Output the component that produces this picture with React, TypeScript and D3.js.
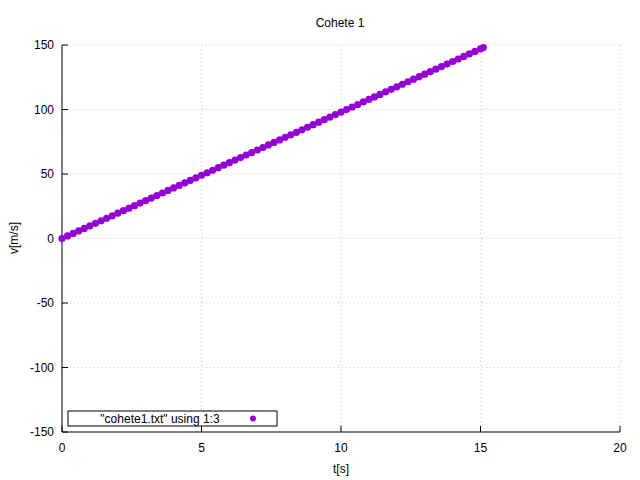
import React, { useEffect, useRef } from 'react';
import * as d3 from 'd3';

const title = 'Cohete 1';
const legendLabel = '"cohete1.txt" using 1:3';
const xTicks = [0, 5, 10, 15, 20];
const yTicks = [-150, -100, -50, 0, 50, 100, 150];

const tValues = [
  0, 0.2, 0.4, 0.6, 0.8, 1, 1.2, 1.4, 1.6, 1.8, 2, 2.2, 2.4, 2.6, 2.8, 3, 3.2, 3.4, 3.6, 3.8,
  4, 4.2, 4.4, 4.6, 4.8, 5, 5.2, 5.4, 5.6, 5.8, 6, 6.2, 6.4, 6.6, 6.8, 7, 7.2, 7.4, 7.6, 7.8,
  8, 8.2, 8.4, 8.6, 8.8, 9, 9.2, 9.4, 9.6, 9.8, 10, 10.2, 10.4, 10.6, 10.8, 11, 11.2, 11.4, 11.6, 11.8,
  12, 12.2, 12.4, 12.6, 12.8, 13, 13.2, 13.4, 13.6, 13.8, 14, 14.2, 14.4, 14.6, 14.8, 15, 15.1,
];
const vValues = [
  0, 1.96, 3.92, 5.88, 7.84, 9.8, 11.76, 13.72, 15.68, 17.64, 19.6, 21.56, 23.52, 25.48, 27.44, 29.4, 31.36, 33.32, 35.28, 37.24,
  39.2, 41.16, 43.12, 45.08, 47.04, 49, 50.96, 52.92, 54.88, 56.84, 58.8, 60.76, 62.72, 64.68, 66.64, 68.6, 70.56, 72.52, 74.48, 76.44,
  78.4, 80.36, 82.32, 84.28, 86.24, 88.2, 90.16, 92.12, 94.08, 96.04, 98, 99.96, 101.92, 103.88, 105.84, 107.8, 109.76, 111.72, 113.68, 115.64,
  117.6, 119.56, 121.52, 123.48, 125.44, 127.4, 129.36, 131.32, 133.28, 135.24, 137.2, 139.16, 141.12, 143.08, 145.04, 147, 148,
];

const App: React.FC = () => {
  const svgRef = useRef<SVGSVGElement>(null);

  useEffect(() => {
    if (!svgRef.current) return;
    const svg = d3.select(svgRef.current);
    svg.selectAll('*').remove();
    const left = 62, right = 620, top = 45, bottom = 432;
    const color = '#9400d3';
    const font = 'Liberation Sans, Arial, sans-serif';

    const x = d3.scaleLinear().domain([0, 20]).range([left, right]);
    const y = d3.scaleLinear().domain([-150, 150]).range([bottom, top]);

    svg.append('rect').attr('width', 640).attr('height', 480).attr('fill', 'white');

    // grid
    const grid = svg.append('g').attr('stroke', '#c8c8c8').attr('stroke-width', 1).attr('stroke-dasharray', '1,3');
    xTicks.slice(1).forEach(t => grid.append('line').attr('x1', x(t)).attr('x2', x(t)).attr('y1', top).attr('y2', bottom));
    yTicks.slice(1).forEach(t => grid.append('line').attr('x1', left).attr('x2', right).attr('y1', y(t)).attr('y2', y(t)));

    // axes
    const ax = svg.append('g').attr('stroke', 'black').attr('stroke-width', 1);
    ax.append('line').attr('x1', left).attr('x2', left).attr('y1', top).attr('y2', bottom);
    ax.append('line').attr('x1', left).attr('x2', right).attr('y1', bottom).attr('y2', bottom);
    xTicks.forEach(t => ax.append('line').attr('x1', x(t)).attr('x2', x(t)).attr('y1', bottom).attr('y2', bottom - 6));
    yTicks.forEach(t => ax.append('line').attr('x1', left).attr('x2', left + 6).attr('y1', y(t)).attr('y2', y(t)));

    // legend box
    svg.append('rect').attr('x', 68).attr('y', 411).attr('width', 209).attr('height', 15)
      .attr('fill', 'white').attr('stroke', 'black');

    const txt = svg.append('g').attr('font-family', font).attr('font-size', 12).attr('fill', 'black');
    xTicks.forEach(t => txt.append('text').attr('x', x(t)).attr('y', bottom + 20).attr('text-anchor', 'middle').text(t));
    yTicks.forEach(t => txt.append('text').attr('x', left - 8).attr('y', y(t) + 4).attr('text-anchor', 'end').text(t));
    txt.append('text').attr('x', 340).attr('y', 27).attr('text-anchor', 'middle').text(title);
    txt.append('text').attr('x', 341).attr('y', 473).attr('text-anchor', 'middle').text('t[s]');
    txt.append('text').attr('transform', 'translate(18,238) rotate(-90)').attr('text-anchor', 'middle').text('v[m/s]');
    txt.append('text').attr('x', 160).attr('y', 423).attr('text-anchor', 'middle').text(legendLabel);

    // points
    svg.append('g').selectAll('circle').data(tValues).enter().append('circle')
      .attr('cx', d => x(d)).attr('cy', (_, i) => y(vValues[i])).attr('r', 3.6).attr('fill', color);
    svg.append('circle').attr('cx', 253).attr('cy', 418.5).attr('r', 3).attr('fill', color);
  }, []);

  return <svg ref={svgRef} width={640} height={480} style={{ display: 'block', position: 'absolute', left: 0, top: 0 }} />;
};

export default App;
